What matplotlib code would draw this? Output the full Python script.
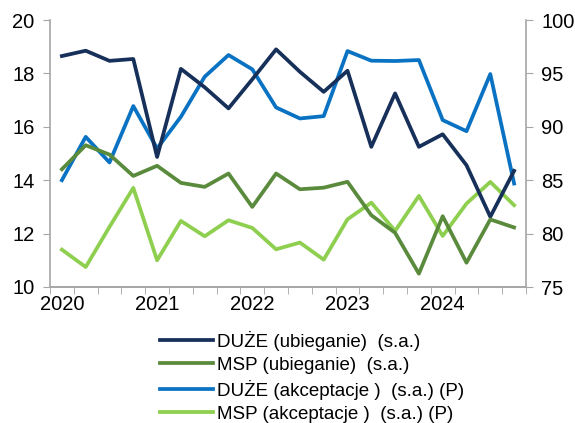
import matplotlib
matplotlib.use("Agg")
import matplotlib.pyplot as plt
import numpy as np

plt.rcParams['font.family'] = ['Liberation Sans', 'DejaVu Sans']

years = ["2020", "2021", "2022", "2023", "2024"]
duze_ubieganie = [18.65, 18.85, 18.47, 18.54, 14.87, 18.17, 17.48, 16.69, 17.78, 18.9,
                  18.06, 17.31, 18.1, 15.25, 17.25, 15.25, 15.72, 14.56, 12.63, 14.35]
msp_ubieganie = [14.41, 15.31, 14.96, 14.16, 14.54, 13.9, 13.75, 14.25, 13.0, 14.25,
                 13.66, 13.72, 13.94, 12.69, 12.03, 10.5, 12.65, 10.91, 12.53, 12.23]
duze_akceptacje = [85.0, 89.06, 86.66, 91.94, 87.97, 90.94, 94.69, 96.72, 95.38, 91.81,
                   90.78, 91.0, 97.09, 96.19, 96.16, 96.25, 90.63, 89.59, 94.94, 84.69]
msp_akceptacje = [78.5, 76.87, 80.63, 84.28, 77.5, 81.19, 79.75, 81.25, 80.53, 78.53,
                  79.16, 77.56, 81.34, 82.9, 80.25, 83.53, 79.78, 82.81, 84.84, 82.66]
labels = ["DUŻE (ubieganie)  (s.a.)", "MSP (ubieganie)  (s.a.)",
          "DUŻE (akceptacje )  (s.a.) (P)", "MSP (akceptacje )  (s.a.) (P)"]
colors = ["#16305A", "#5A8A3C", "#0A72C2", "#8ECF4F"]

n = len(duze_ubieganie)
x = np.arange(n)

fig = plt.figure(figsize=(5.75, 4.23), dpi=100)
ax = fig.add_axes([50/575, 1-287/423, 476/575, 267/423])
ax2 = ax.twinx()

lw = 2.7
l3, = ax2.plot(x, duze_akceptacje, color=colors[2], lw=lw)
l4, = ax2.plot(x, msp_akceptacje, color=colors[3], lw=lw)
l1, = ax.plot(x, duze_ubieganie, color=colors[0], lw=lw)
l2, = ax.plot(x, msp_ubieganie, color=colors[1], lw=lw)
ax.set_zorder(ax2.get_zorder() + 1)
ax.patch.set_visible(False)

ax.set_xlim(-0.5, n - 0.5)
ax.set_ylim(10, 20)
ax2.set_ylim(75, 100)
ax.set_yticks(np.arange(10, 21, 2))
ax2.set_yticks(np.arange(75, 101, 5))

ax.set_xticks(np.arange(0, n, 4))
ax.set_xticklabels(years)
ax.set_xticks(np.arange(-0.5, n, 1), minor=True)
ax.tick_params(axis='x', which='major', length=0, pad=6)
ax.tick_params(axis='x', which='minor', length=5, color='#A6A6A6', direction='out')

gray = '#A6A6A6'
for a in (ax, ax2):
    a.spines['top'].set_visible(False)
    for s in ('left', 'right', 'bottom'):
        a.spines[s].set_color(gray)
        a.spines[s].set_linewidth(1.2)
ax.spines['right'].set_visible(False)
ax2.spines['left'].set_visible(False)
ax.tick_params(axis='y', length=5, color=gray, labelsize=14.5, pad=6)
ax2.tick_params(axis='y', length=5, color=gray, labelsize=14.5, pad=6)
ax.tick_params(axis='x', labelsize=14.5)

fig.legend([l1, l2, l3, l4], labels, loc='upper left',
           bbox_to_anchor=(160/575, 1-331/423), frameon=False,
           fontsize=13.5, handlelength=2.85, handletextpad=0.2,
           labelspacing=0.31, borderpad=0, borderaxespad=0)

fig.savefig("out.png", dpi=100)
